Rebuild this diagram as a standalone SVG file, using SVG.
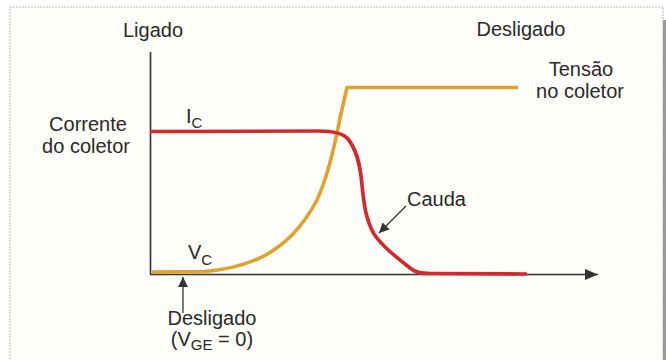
<svg xmlns="http://www.w3.org/2000/svg" width="666" height="360" viewBox="0 0 666 360">
<style>
text{font-family:"Liberation Sans",Arial,sans-serif;fill:#2a2a2a;font-size:20px}
.sub{font-size:15px}
.axis{stroke:#333;stroke-width:1.6;fill:none}
.ptr{stroke:#333;stroke-width:1.3;fill:none}
.vc{stroke:#e0a22a;stroke-width:3.6;fill:none;stroke-linejoin:round}
.ic{stroke:#d6282c;stroke-width:3.6;fill:none;stroke-linejoin:round}
</style>
<defs>
<marker id="ah" viewBox="0 0 10 10" refX="10" refY="5" markerWidth="10" markerHeight="10" markerUnits="userSpaceOnUse" orient="auto"><path d="M0,0 L10,5 L0,10 z" fill="#333"/></marker>
<marker id="axh" viewBox="0 0 12 10" refX="12" refY="5" markerWidth="13" markerHeight="11" markerUnits="userSpaceOnUse" orient="auto"><path d="M0,0 L12,5 L0,10 z" fill="#333"/></marker>
</defs>
<rect x="0" y="0" width="666" height="360" fill="#ffffff"/>
<rect x="10" y="7" width="653" height="360" fill="#fdfdfa" stroke="#cfcfcf" stroke-width="1.5" stroke-dasharray="2 1"/>
<rect x="663" y="20" width="3" height="340" fill="#9a9a9a"/>
<g id="connectors">
<path class="axis" d="M150.5,52 V274.5 H598" marker-end="url(#axh)"/>
<path id="vc-curve" class="vc" d="M152,272 L205,271.5 C225,270 245,265 262,257 C285,245 302,228 317,200 C327,178 334,150 340,118 L347,87.5 L518,87.5"/>
<path id="ic-curve" class="ic" d="M150,131.5 L318,131 C333,131 343,133 348,139 C356,149 360,162 362,185 C364,205 366,220 374,234 C382,246 395,256 410,268 C416,273 422,273.5 430,273.5 L527,274"/>
<path class="ptr" d="M406,206 L379,233" marker-end="url(#ah)"/>
<path class="ptr" d="M183,313 L183,277" marker-end="url(#ah)"/>
</g>
<g id="ligado"><text x="153" y="37" text-anchor="middle">Ligado</text></g>
<g id="desligado-top"><text x="521" y="36" text-anchor="middle">Desligado</text></g>
<g id="tensao"><text x="581" y="76" text-anchor="middle">Tensão</text><text x="580" y="98" text-anchor="middle">no coletor</text></g>
<g id="corrente"><text x="88" y="131" text-anchor="middle">Corrente</text><text x="86" y="153" text-anchor="middle">do coletor</text></g>
<g id="ic-label"><text x="186" y="123">I<tspan class="sub" dy="5">C</tspan></text></g>
<g id="vc-label"><text x="188" y="259">V<tspan class="sub" dy="6">C</tspan></text></g>
<g id="cauda"><text x="407" y="206">Cauda</text></g>
<g id="desligado-bottom"><text x="212" y="325" text-anchor="middle">Desligado</text><text x="212" y="346" text-anchor="middle">(V<tspan class="sub" dy="4">GE</tspan><tspan dy="-4"> = 0)</tspan></text></g>
</svg>
